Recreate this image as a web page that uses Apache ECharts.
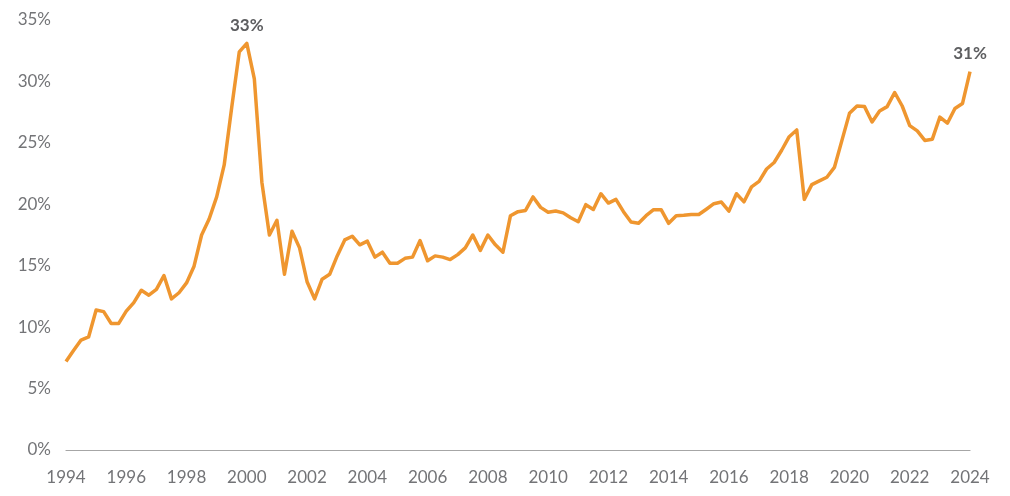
<!DOCTYPE html>
<html>
<head>
<meta charset="utf-8">
<script src="https://cdn.jsdelivr.net/npm/echarts@6/dist/echarts.min.js"></script>
<style>
html,body{margin:0;padding:0;background:#fff;}
#chart{width:1010px;height:496px;}
</style>
</head>
<body>
<div id="chart"></div>
<script>
// Quarterly observations, 1994 Q1 .. 2024 Q1
const startYear = 1994;
const values = [
  7.2, 8.1, 8.95, 9.2,
  11.4, 11.26, 10.3, 10.3,
  11.3, 12.0, 13.0, 12.6,
  13.07, 14.2, 12.3, 12.8,
  13.6, 14.96, 17.5, 18.8,
  20.6, 23.2, 27.9, 32.4,
  33.1, 30.2, 21.8, 17.5,
  18.7, 14.3, 17.8, 16.45,
  13.7, 12.3, 13.9, 14.3,
  15.8, 17.1, 17.4, 16.7,
  17.0, 15.7, 16.1, 15.2,
  15.2, 15.6, 15.7, 17.05,
  15.4, 15.8, 15.7, 15.5,
  15.9, 16.45, 17.5, 16.25,
  17.5, 16.7, 16.1, 19.07,
  19.4, 19.5, 20.6, 19.75,
  19.35, 19.45, 19.3, 18.9,
  18.58, 19.97, 19.58, 20.86,
  20.1, 20.4, 19.4, 18.55,
  18.45, 19.07, 19.56, 19.56,
  18.45, 19.07, 19.1, 19.17,
  19.17, 19.6, 20.05, 20.18,
  19.45, 20.86, 20.2, 21.42,
  21.86, 22.87, 23.4, 24.4,
  25.5, 26.05, 20.4, 21.6,
  21.9, 22.2, 23.0, 25.2,
  27.4, 28.0, 27.95, 26.7,
  27.6, 27.95, 29.1, 28.0,
  26.4, 25.97, 25.2, 25.3,
  27.1, 26.6, 27.8, 28.2,
  30.8
];
const categories = values.map((v, i) => (startYear + Math.floor(i / 4)) + ' Q' + (i % 4 + 1));
const yearTickLabels = ['1994','1996','1998','2000','2002','2004','2006','2008','2010','2012','2014','2016','2018','2020','2022','2024'];
const yTicks = [0, 5, 10, 15, 20, 25, 30, 35];
const annotatedPoints = ['2000 Q1', '2024 Q1'];

const markData = annotatedPoints.map(c => {
  const i = categories.indexOf(c);
  return {coord: [c, values[i]], value: values[i]};
});

const chart = echarts.init(document.getElementById('chart'), null, {renderer: 'canvas'});
chart.setOption({
  animation: false,
  backgroundColor: '#ffffff',
  grid: {left: 66, right: 40, top: 20, bottom: 46, containLabel: false},
  xAxis: {
    type: 'category',
    data: categories,
    boundaryGap: false,
    axisLine: {show: true, lineStyle: {color: '#a6a6a6', width: 1.2}},
    axisTick: {show: false},
    splitLine: {show: false},
    axisLabel: {
      interval: (index, value) => yearTickLabels.includes(value.slice(0, 4)) && value.endsWith('Q1'),
      formatter: value => value.slice(0, 4),
      color: '#737477',
      fontSize: 17,
      fontFamily: 'Lato, "Open Sans", sans-serif',
      margin: 19
    }
  },
  yAxis: {
    type: 'value',
    min: yTicks[0],
    max: yTicks[yTicks.length - 1],
    interval: 5,
    axisLine: {show: false},
    axisTick: {show: false},
    splitLine: {show: false},
    axisLabel: {
      formatter: v => v + '%',
      color: '#737477',
      fontSize: 17,
      fontFamily: 'Lato, "Open Sans", sans-serif',
      margin: 15
    }
  },
  series: [{
    type: 'line',
    data: values,
    symbol: 'none',
    showSymbol: false,
    lineStyle: {color: '#EF962F', width: 3.5, join: 'round'},
    itemStyle: {color: '#EF962F'},
    markPoint: {
      symbol: 'circle',
      symbolSize: 1,
      itemStyle: {color: 'rgba(0,0,0,0)'},
      label: {
        show: true,
        position: 'top',
        distance: 9,
        formatter: p => Math.round(p.value) + '%',
        color: '#5d5e60',
        fontSize: 17,
        fontWeight: 'bold',
        fontFamily: 'Lato, "Open Sans", sans-serif'
      },
      data: markData
    }
  }]
});
</script>
</body>
</html>
